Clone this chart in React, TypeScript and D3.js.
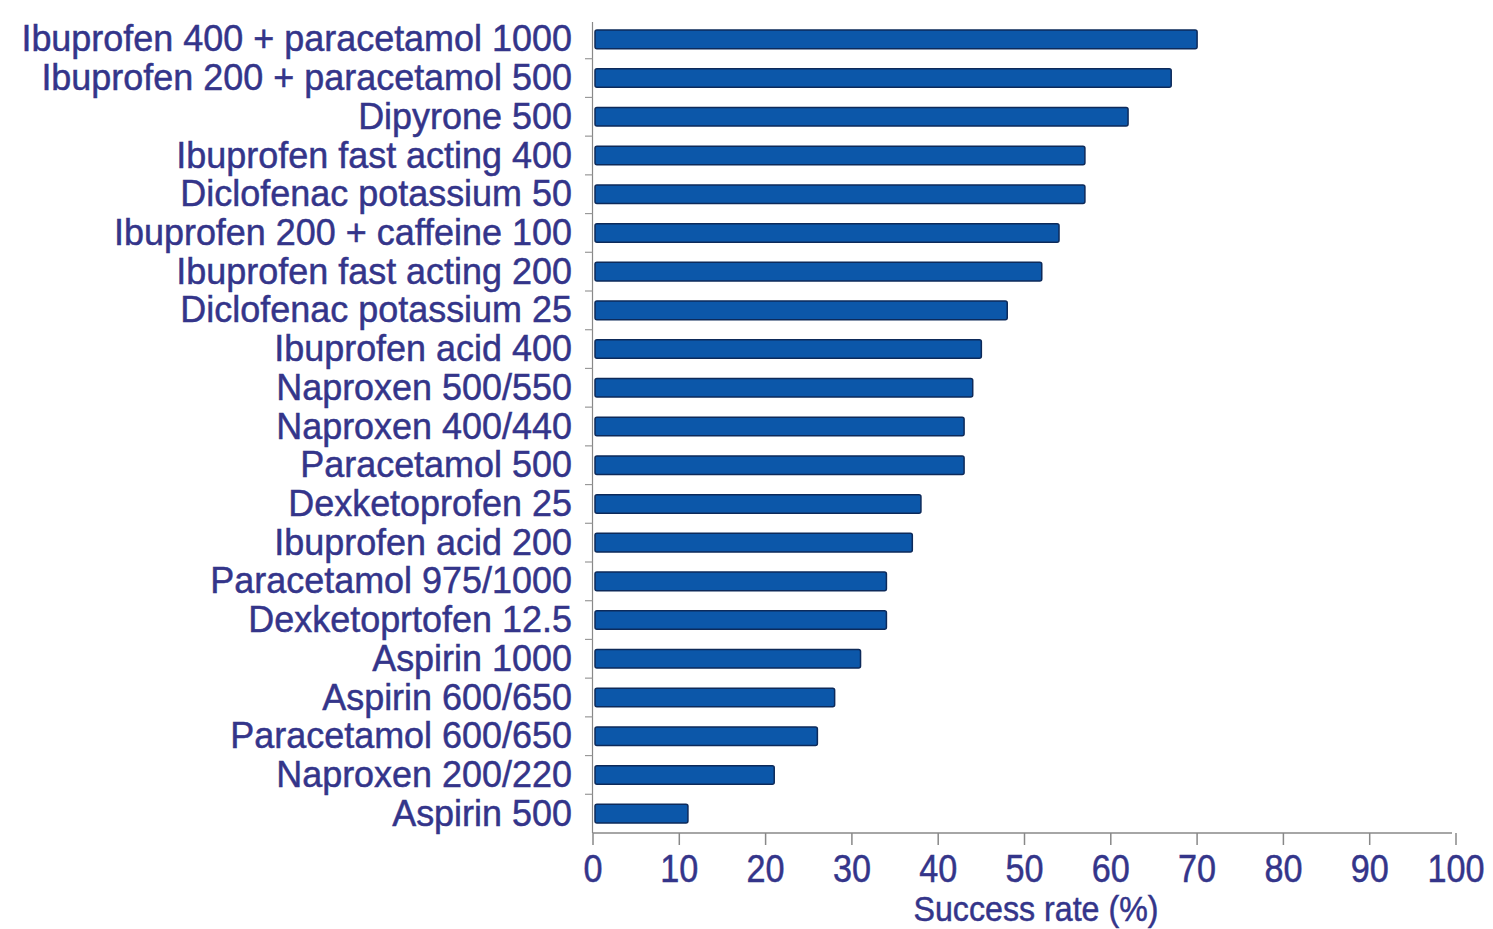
import React from "react";
import * as d3 from "d3";

const categories = [
  "Ibuprofen 400 + paracetamol 1000",
  "Ibuprofen 200 + paracetamol 500",
  "Dipyrone 500",
  "Ibuprofen fast acting 400",
  "Diclofenac potassium 50",
  "Ibuprofen 200 + caffeine 100",
  "Ibuprofen fast acting 200",
  "Diclofenac potassium 25",
  "Ibuprofen acid 400",
  "Naproxen 500/550",
  "Naproxen 400/440",
  "Paracetamol 500",
  "Dexketoprofen 25",
  "Ibuprofen acid 200",
  "Paracetamol 975/1000",
  "Dexketoprtofen 12.5",
  "Aspirin 1000",
  "Aspirin 600/650",
  "Paracetamol 600/650",
  "Naproxen 200/220",
  "Aspirin 500",
];

const successRate = [70, 67, 62, 57, 57, 54, 52, 48, 45, 44, 43, 43, 38, 37, 34, 34, 31, 28, 26, 21, 11];

const xTicks = [0, 10, 20, 30, 40, 50, 60, 70, 80, 90, 100];
const xAxisTitle = "Success rate (%)";

const W = 1493;
const H = 929;
const TEXT = "#34358a";
const FONT = "'Liberation Sans', Arial, Helvetica, sans-serif";

export default function App() {
  const x = d3.scaleLinear().domain([0, 100]).range([593, 1456]);
  const y = d3
    .scaleBand<string>()
    .domain(categories)
    .range([20, 833])
    .paddingInner(0.52)
    .paddingOuter(0.26);
  const bw = y.bandwidth();
  const step = y.step();
  const axisY = 833;
  const textStroke = { stroke: TEXT, strokeWidth: 0.5 };

  return (
    <svg
      width={W}
      height={H}
      style={{ position: "absolute", left: 0, top: 0, background: "#fff" }}
    >
      <rect x={0} y={0} width={W} height={H} fill="#fff" />
      {/* left axis */}
      <line x1={592.5} x2={592.5} y1={22} y2={axisY} stroke="#888" strokeWidth={1.2} />
      {categories.slice(1).map((c) => {
        const yy = (y(c) as number) - (step - bw) / 2;
        return (
          <line key={"lt" + c} x1={585} x2={592.5} y1={yy} y2={yy} stroke="#999" strokeWidth={1.2} />
        );
      })}
      {/* bars */}
      {categories.map((c, i) => (
        <rect
          key={c}
          x={x(0) + 2}
          y={y(c) as number}
          width={x(successRate[i]) - x(0) - 2}
          height={bw}
          rx={2}
          fill="#0c57a9"
          stroke="#0d2a5a"
          strokeWidth={1.5}
        />
      ))}
      {/* category labels */}
      {categories.map((c) => {
        const cy = (y(c) as number) + bw / 2;
        return (
          <g key={"l" + c} transform={`translate(572, ${cy + 12}) scale(0.972, 1)`}>
            <text
              x={0}
              y={0}
              textAnchor="end"
              fontFamily={FONT}
              fontSize={37}
              fill={TEXT}
              {...textStroke}
            >
              {c}
            </text>
          </g>
        );
      })}
      {/* x axis */}
      <line x1={593} x2={1452} y1={axisY} y2={axisY} stroke="#888" strokeWidth={1.5} />
      {xTicks.map((t) => (
        <g key={"t" + t}>
          <line x1={x(t)} x2={x(t)} y1={axisY} y2={axisY + 12} stroke="#888" strokeWidth={1.5} />
          <g transform={`translate(${x(t)}, ${axisY + 49}) scale(0.9, 1)`}>
            <text x={0} y={0} textAnchor="middle" fontFamily={FONT} fontSize={38} fill={TEXT} {...textStroke}>
              {t}
            </text>
          </g>
        </g>
      ))}
      <g transform={`translate(1036, 921) scale(0.92, 1)`}>
        <text x={0} y={0} textAnchor="middle" fontFamily={FONT} fontSize={35} fill={TEXT} {...textStroke}>
          {xAxisTitle}
        </text>
      </g>
    </svg>
  );
}
